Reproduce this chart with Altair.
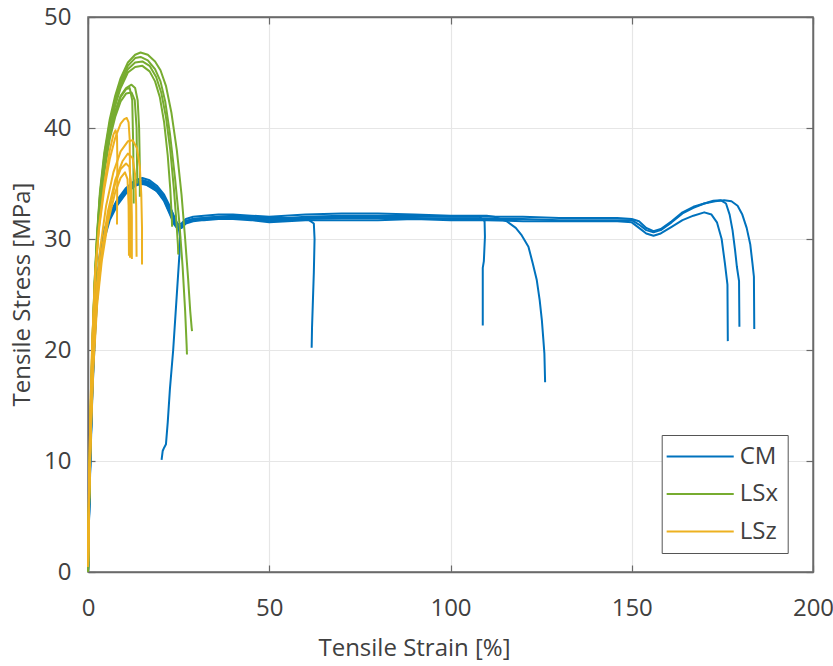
import altair as alt
import pandas as pd

GROUPS = ["CM", "LSx", "LSz"]
COLORS = ["#0072BD", "#77AC30", "#EDB120"]
X_TICKS = [0, 50, 100, 150, 200]
Y_TICKS = [0, 10, 20, 30, 40, 50]

# ---- CM curves (strain %, stress MPa) ----
CM1_x = [0, 0.3, 0.7, 1.2, 1.8, 2.5, 3.3, 4.5, 6, 8, 10.5, 13, 16, 19, 21, 23, 24.3, 25, 25.4, 25.2, 24.8, 24.2, 23.5, 22.6, 22, 21.5, 21, 20.6, 20.3]
CM1_y = [0, 6, 12, 17.5, 22, 26, 28.8, 30.8, 32.2, 33.4, 34.4, 35.0, 34.9, 34.3, 33.6, 32.6, 31.6, 31.0, 30.2, 28.5, 26.5, 23.5, 20, 16.5, 13.5, 11.5, 11.2, 10.9, 10.1]

CM2_x = [0, 0.3, 0.7, 1.2, 1.8, 2.5, 3.3, 4.5, 6, 8, 10.5, 13, 15, 17, 19, 21, 22.5, 23.8, 24.8, 25.8, 27, 29, 32, 36, 40, 45, 50, 55, 58, 61, 62.3, 62.5, 62.3, 62.0, 61.8, 61.7]
CM2_y = [0, 5.5, 11.5, 17, 21.5, 25.5, 28.5, 30.6, 32.1, 33.3, 34.4, 35.1, 35.3, 35.1, 34.6, 33.8, 32.8, 31.7, 31.1, 31.2, 31.5, 31.7, 31.8, 31.9, 31.9, 31.8, 31.6, 31.7, 31.8, 31.7, 31.4, 30, 27, 24, 22, 20.2]

CM3_x = [0, 0.3, 0.7, 1.2, 1.8, 2.5, 3.3, 4.5, 6, 8, 10.5, 13, 15, 17, 19, 21, 22.5, 23.8, 24.8, 25.8, 27, 29, 32, 36, 40, 45, 50, 55, 60, 70, 80, 90, 100, 105, 108, 109.4, 109.5, 109.2, 108.9, 108.9]
CM3_y = [0, 5, 11, 16.5, 21, 25, 28.2, 30.4, 32, 33.2, 34.3, 35.0, 35.2, 35.0, 34.5, 33.6, 32.5, 31.5, 31.0, 31.2, 31.6, 31.8, 31.9, 32.0, 32.1, 32.0, 31.9, 31.9, 32.0, 32.1, 32.1, 32.1, 32.0, 32.0, 32.0, 31.6, 30.2, 28.0, 27.4, 22.2]

CM4_x = [0, 0.3, 0.7, 1.2, 1.8, 2.5, 3.3, 4.5, 6, 8, 10.5, 13, 15, 17, 19, 21, 22.5, 23.8, 24.8, 25.8, 27, 29, 32, 36, 40, 45, 50, 60, 70, 80, 90, 100, 106, 110, 112, 115.5, 118, 119.5, 121.5, 122.7, 123.8, 124.6, 125.2, 125.6, 125.9, 126.1]
CM4_y = [0, 5.5, 11.5, 17, 21.5, 25.5, 28.6, 30.7, 32.3, 33.5, 34.6, 35.3, 35.5, 35.3, 34.8, 34.0, 33.0, 31.9, 31.3, 31.4, 31.8, 32.0, 32.1, 32.2, 32.2, 32.1, 32.0, 32.2, 32.3, 32.3, 32.2, 32.1, 32.1, 32.1, 32.0, 31.6, 31.0, 30.4, 29.3, 27.8, 26.3, 24.5, 22.7, 21.0, 19.7, 17.1]

CM5_x = [0, 0.3, 0.7, 1.2, 1.8, 2.5, 3.3, 4.5, 6, 8, 10.5, 13, 15, 17, 19, 21, 22.5, 23.8, 24.8, 25.8, 27, 29, 32, 36, 40, 45, 50, 55, 60, 70, 80, 90, 100, 110, 120, 130, 140, 146, 150, 152, 154, 156, 158, 161, 164, 167, 170, 172, 173.5, 174.8, 175.7, 176.4, 176.5]
CM5_y = [0, 5, 10.5, 16, 20.5, 24.5, 27.8, 30.0, 31.7, 33.0, 34.1, 34.8, 35.0, 34.8, 34.3, 33.4, 32.3, 31.3, 30.9, 31.0, 31.4, 31.6, 31.7, 31.8, 31.8, 31.7, 31.5, 31.6, 31.7, 31.7, 31.7, 31.8, 31.7, 31.7, 31.6, 31.6, 31.6, 31.6, 31.5, 31.0, 30.5, 30.3, 30.5, 31.1, 31.7, 32.1, 32.4, 32.2, 31.5, 30.0, 27.8, 25.9, 20.8]

CM6_x = [0, 0.3, 0.7, 1.2, 1.8, 2.5, 3.3, 4.5, 6, 8, 10.5, 13, 15, 17, 19, 21, 22.5, 23.8, 24.8, 25.8, 27, 29, 32, 36, 40, 45, 50, 55, 60, 70, 80, 90, 100, 110, 120, 130, 140, 146, 150, 152, 154, 156, 158, 161, 164, 167, 170, 172.5, 174.5, 176, 177, 177.8, 178.5, 179, 179.6, 179.7]
CM6_y = [0, 5.2, 11, 16.5, 21, 25, 28.2, 30.3, 31.9, 33.1, 34.2, 34.9, 35.1, 34.9, 34.4, 33.5, 32.4, 31.4, 30.9, 31.0, 31.5, 31.7, 31.8, 31.9, 31.9, 31.8, 31.7, 31.7, 31.8, 31.9, 31.9, 31.9, 31.8, 31.8, 31.8, 31.7, 31.7, 31.7, 31.7, 31.3, 30.8, 30.6, 30.8, 31.5, 32.3, 32.8, 33.2, 33.45, 33.5, 33.2, 32.2, 30.8, 29.0, 27.5, 26.2, 22.1]

CM7_x = [0, 0.3, 0.7, 1.2, 1.8, 2.5, 3.3, 4.5, 6, 8, 10.5, 13, 15, 17, 19, 21, 22.5, 23.8, 24.8, 25.8, 27, 29, 32, 36, 40, 45, 50, 55, 60, 70, 80, 90, 100, 110, 120, 130, 140, 146, 150, 152, 154, 156, 158, 161, 164, 167, 170, 173, 175.5, 177.5, 179.2, 180.5, 181.7, 182.7, 183.3, 183.7, 183.8]
CM7_y = [0, 5.3, 11.2, 16.8, 21.2, 25.2, 28.4, 30.5, 32.1, 33.3, 34.4, 35.1, 35.3, 35.1, 34.6, 33.7, 32.6, 31.6, 31.1, 31.2, 31.6, 31.8, 31.9, 32.0, 32.0, 31.9, 31.8, 31.8, 31.9, 32.0, 32.0, 32.0, 32.0, 32.0, 32.0, 31.9, 31.9, 31.9, 31.8, 31.6, 31.0, 30.7, 30.9, 31.6, 32.4, 32.9, 33.2, 33.4, 33.5, 33.4, 33.0, 32.2, 31.0, 29.5, 27.8, 26.6, 21.9]

# ---- LSx curves ----
LSX1_x = [0, 0.3, 0.7, 1.2, 1.8, 2.5, 3.3, 4.5, 6, 7.5, 9, 11, 13, 14.5, 16.5, 18.5, 20, 21.5, 23, 24.5, 25.8, 26.8, 27.6, 28.2, 28.6, 28.7]
LSX1_y = [0, 7, 14, 20.5, 26, 30.5, 34.3, 37.8, 40.8, 42.9, 44.5, 45.9, 46.6, 46.8, 46.6, 46, 45.2, 43.8, 41.4, 38, 34, 30, 26.5, 23.5, 22, 21.7]
LSX2_x = [0, 0.3, 0.7, 1.2, 1.8, 2.5, 3.3, 4.5, 6, 7.5, 9, 11, 13, 14.5, 16.5, 18.5, 20, 21.3, 22.6, 24, 25.2, 26.1, 26.8, 27.2, 27.3]
LSX2_y = [0, 7, 14, 20.5, 26, 30.3, 34, 37.5, 40.5, 42.6, 44.2, 45.6, 46.3, 46.4, 46.1, 45.3, 44.2, 42.4, 39.5, 35.5, 31.5, 27.5, 23.5, 20.5, 19.6]
LSX3_x = [0, 0.3, 0.7, 1.2, 1.8, 2.5, 3.3, 4.5, 6, 7.5, 9, 11, 13, 15, 17, 18.8, 20.2, 21.5, 22.7, 23.7, 24.4, 24.8, 24.9]
LSX3_y = [0, 6.5, 13.5, 20, 25.5, 30, 33.8, 37.2, 40.2, 42.3, 43.9, 45.3, 45.9, 46.0, 45.6, 44.6, 43.2, 41, 38, 34.5, 31.5, 29.5, 28.6]
LSX4_x = [0, 0.3, 0.7, 1.2, 1.8, 2.5, 3.3, 4.5, 6, 7.5, 9, 11, 13, 15, 17, 18.5, 19.8, 21, 22, 22.7, 23.1, 23.2]
LSX4_y = [0, 6.5, 13.5, 20, 25.5, 30, 33.6, 37, 40, 42, 43.6, 45, 45.5, 45.6, 45.1, 44.2, 42.8, 40.5, 37.5, 34.5, 32, 31.1]
LSX5_x = [0, 0.3, 0.7, 1.2, 1.8, 2.5, 3.3, 4.5, 6, 7.5, 9, 10.5, 12, 13, 13.7, 14.1, 14.3, 14.3]
LSX5_y = [0, 6.5, 13, 19.5, 25, 29.5, 33, 36.5, 39.5, 41.5, 42.9, 43.6, 43.9, 43.6, 42.5, 40, 36.5, 33.8]
LSX6_x = [0, 0.3, 0.7, 1.2, 1.8, 2.5, 3.3, 4.5, 6, 7.5, 9, 10.5, 11.5, 12.2, 12.5, 12.6]
LSX6_y = [0, 6.5, 13, 19.5, 25, 29.5, 33, 36.4, 39.4, 41.4, 42.8, 43.5, 43.6, 42.5, 38, 33.2]
LSX7_x = [0, 0.3, 0.7, 1.2, 1.8, 2.5, 3.3, 4.5, 6, 7.5, 9, 10.5, 12, 12.9, 13.4, 13.6]
LSX7_y = [0, 6, 12.5, 19, 24.5, 29, 32.5, 36, 39, 41, 42.4, 43.1, 43.2, 42.5, 40, 35]

# ---- LSz curves ----
LSZ1_x = [0, 0.3, 0.7, 1.2, 2, 3, 4.5, 6, 7.5, 9, 10, 10.7, 11.2, 11.5, 11.6, 11.6]
LSZ1_y = [0.5, 8, 15, 21, 26.8, 30.8, 34.5, 37.2, 39.1, 40.4, 40.8, 40.9, 40.5, 39, 35, 28.3]
LSZ2_x = [0, 0.3, 0.7, 1.2, 2, 3, 4.5, 6, 7, 7.6, 8.0, 8.1, 8.0]
LSZ2_y = [0.5, 8, 15, 21, 27, 31, 35, 38, 39.4, 39.8, 39.3, 37, 31.3]
LSZ3_x = [0, 0.3, 0.8, 1.4, 2.2, 3.3, 5, 7, 9, 11, 12.3, 13.5, 14.3, 14.7, 14.9, 14.9]
LSZ3_y = [0.5, 7, 14, 20, 25, 29, 33, 36, 37.9, 38.8, 38.9, 38.2, 36.5, 34, 31, 27.7]
LSZ4_x = [0, 0.3, 0.8, 1.5, 2.5, 3.8, 5.5, 7.5, 9.5, 11, 12.3, 13, 13.3, 13.4]
LSZ4_y = [0.5, 7, 13.5, 19.5, 25, 29, 32.5, 35.3, 37, 37.7, 37.3, 35.8, 33, 28.4]
LSZ5_x = [0, 0.3, 0.8, 1.5, 2.5, 3.8, 5.5, 7.5, 9, 10.5, 11.4, 11.9, 12.1, 12.1]
LSZ5_y = [0.5, 6.5, 13, 19, 24.5, 28.5, 32, 35, 36.3, 36.8, 36.5, 35, 32, 28.2]
LSZ6_x = [0, 0.3, 0.8, 1.5, 2.5, 3.8, 5.5, 7.5, 9, 10.2, 10.9, 11.2, 11.3]
LSZ6_y = [0.5, 6.5, 12.5, 18.5, 24, 28, 31.5, 34.2, 35.5, 36.0, 35.4, 33, 28.5]

CURVES = [
    ("CM", "CM1", CM1_x, CM1_y), ("CM", "CM2", CM2_x, CM2_y), ("CM", "CM3", CM3_x, CM3_y),
    ("CM", "CM4", CM4_x, CM4_y), ("CM", "CM5", CM5_x, CM5_y), ("CM", "CM6", CM6_x, CM6_y),
    ("CM", "CM7", CM7_x, CM7_y),
    ("LSx", "LSX1", LSX1_x, LSX1_y), ("LSx", "LSX2", LSX2_x, LSX2_y), ("LSx", "LSX3", LSX3_x, LSX3_y),
    ("LSx", "LSX4", LSX4_x, LSX4_y), ("LSx", "LSX5", LSX5_x, LSX5_y), ("LSx", "LSX6", LSX6_x, LSX6_y),
    ("LSx", "LSX7", LSX7_x, LSX7_y),
    ("LSz", "LSZ1", LSZ1_x, LSZ1_y), ("LSz", "LSZ2", LSZ2_x, LSZ2_y), ("LSz", "LSZ3", LSZ3_x, LSZ3_y),
    ("LSz", "LSZ4", LSZ4_x, LSZ4_y), ("LSz", "LSZ5", LSZ5_x, LSZ5_y), ("LSz", "LSZ6", LSZ6_x, LSZ6_y),
]

rows = []
n = 0
for g, name, xs, ys in CURVES:
    for i, (xv, yv) in enumerate(zip(xs, ys)):
        rows.append({"group": g, "curve": name, "idx": i, "strain": xv, "stress": yv, "seq": n})
        n += 1
df = pd.DataFrame(rows)

FONT = "Open Sans"
TXT = "#404040"
AX = "#6a6a6a"

xscale = alt.Scale(domain=[0, 200], nice=False, zero=False)
yscale = alt.Scale(domain=[0, 50], nice=False, zero=False)

common = dict(
    gridColor="#e6e6e6", gridWidth=1.2,
    domainColor=AX, domainWidth=1.5,
    tickColor=AX, tickWidth=1.2, tickSize={"expr": "-7"},
    labelFont=FONT, labelFontSize=24, labelColor=TXT,
    titleFont=FONT, titleFontSize=24, titleColor=TXT, titleFontWeight="normal",
    labelFlush=False, labelOverlap=False,
)

x_axis = alt.Axis(values=X_TICKS, title="Tensile Strain [%]", grid=True, labelPadding=31,
                  titleX=326, titleY=83, titleBaseline="alphabetic", titleAlign="center", **common)
y_axis = alt.Axis(values=Y_TICKS, title="Tensile Stress [MPa]", grid=True, labelPadding=24,
                  titleX=-66, titleY=277, titleAngle=-90, titleBaseline="middle", titleAlign="center", **common)

lines = alt.Chart(df).mark_line(strokeWidth=2, strokeJoin="round").encode(
    x=alt.X("strain:Q", scale=xscale, axis=x_axis),
    y=alt.Y("stress:Q", scale=yscale, axis=y_axis),
    color=alt.Color(
        "group:N",
        scale=alt.Scale(domain=GROUPS, range=COLORS),
        title=None,
        legend=alt.Legend(
            orient="none", legendX=573.7, legendY=418, direction="vertical",
            symbolType="M-3,0L3,0", symbolSize=500, symbolStrokeWidth=2,
            symbolOffset=17, labelOffset=27,
            labelFont=FONT, labelFontSize=24, labelColor=TXT,
            rowPadding=12.5, padding=9, strokeColor="#555555", fillColor="white",
            labelExpr="datum.label + '     '",
        ),
    ),
    detail="curve:N",
    order="seq:Q",
)

frame_common = dict(common)
frame_common.pop("labelFlush")
frame = alt.Chart(df).mark_point(opacity=0).encode(
    x=alt.X("strain:Q", scale=xscale,
            axis=alt.Axis(orient="top", values=X_TICKS, labels=False, grid=False, title="", **frame_common)),
    y=alt.Y("stress:Q", scale=yscale,
            axis=alt.Axis(orient="right", values=Y_TICKS, labels=False, grid=False, title="", **frame_common)),
)

chart = (
    alt.layer(lines, frame)
    .resolve_axis(x="independent", y="independent")
    .properties(width=725, height=555, autosize=alt.AutoSizeParams(type="none"),
                padding={"left": 88, "top": 17, "right": 20, "bottom": 94})
    .configure_view(stroke=AX, strokeWidth=1.5)
)

chart.save("out.html", embed_options={"renderer": "svg", "actions": False})
